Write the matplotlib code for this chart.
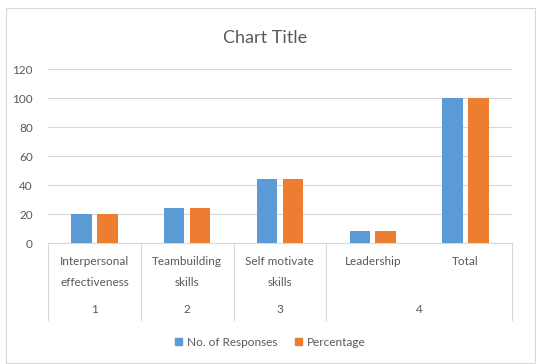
import matplotlib.pyplot as plt
from matplotlib.patches import Patch, Rectangle
import matplotlib.transforms as mtransforms
import numpy as np

# data
skills = ["Interpersonal\neffectiveness", "Teambuilding\nskills", "Self motivate\nskills", "Leadership", "Total"]
groups = ["1", "2", "3", "4"]
group_span = [(0, 0), (1, 1), (2, 2), (3, 4)]
responses = [20, 24, 44, 8, 100]
percentage = [20, 24, 44, 8, 100]

blue = "#5B9BD5"
orange = "#ED7D31"
txt = "#595959"
grid_c = "#D9D9D9"

plt.rcParams["font.family"] = ["Lato", "DejaVu Sans"]

fig = plt.figure(figsize=(5.4, 3.64), dpi=100)
fig.patches.append(Rectangle((0.011, 0.003), 0.98, 0.975, transform=fig.transFigure,
                             fill=False, edgecolor=grid_c, linewidth=0.8))

ax = fig.add_axes([0.0889, 0.3324, 0.859, 0.478])

x = np.arange(len(skills))
w = 0.22
off = 0.14
ax.bar(x - off, responses, width=w, color=blue, zorder=3)
ax.bar(x + off, percentage, width=w, color=orange, zorder=3)

ax.set_xlim(-0.5, len(skills) - 0.5)
ax.set_ylim(0, 120)
ax.set_yticks(range(0, 121, 20))
ax.yaxis.grid(True, color=grid_c, linewidth=0.8, zorder=0)
ax.tick_params(axis="y", length=0, pad=11, labelsize=8.5, labelcolor=txt)
ax.set_xticks([])
for s in ["left", "right", "top"]:
    ax.spines[s].set_visible(False)
ax.spines["bottom"].set_color(grid_c)
ax.spines["bottom"].set_linewidth(0.8)

trans = mtransforms.blended_transform_factory(ax.transData, ax.transAxes)

# first level labels
for i, lab in enumerate(skills):
    ax.text(i, -0.075, lab, transform=trans, ha="center", va="top",
            fontsize=8.5, color=txt, linespacing=2.05)

# second level labels and separators
seps = [-0.5]
for g, (a, b) in zip(groups, group_span):
    ax.text((a + b) / 2, -0.385, g, transform=trans, ha="center", va="center",
            fontsize=8.5, color=txt)
    seps.append(b + 0.5)
for s in seps:
    ax.plot([s, s], [0, -0.44], transform=trans, color=grid_c, linewidth=0.8, clip_on=False)

fig.text(0.49, 0.895, "Chart Title", ha="center", va="center", fontsize=13, color=txt)

handles = [Patch(color=blue, label="No. of Responses"), Patch(color=orange, label="Percentage")]
fig.legend(handles=handles, loc="center", bbox_to_anchor=(0.5, 0.06), ncol=2, frameon=False,
           fontsize=8.5, labelcolor=txt, handlelength=0.6, handleheight=0.6,
           handletextpad=0.4, columnspacing=1.5)

fig.savefig("out.png", dpi=100)
